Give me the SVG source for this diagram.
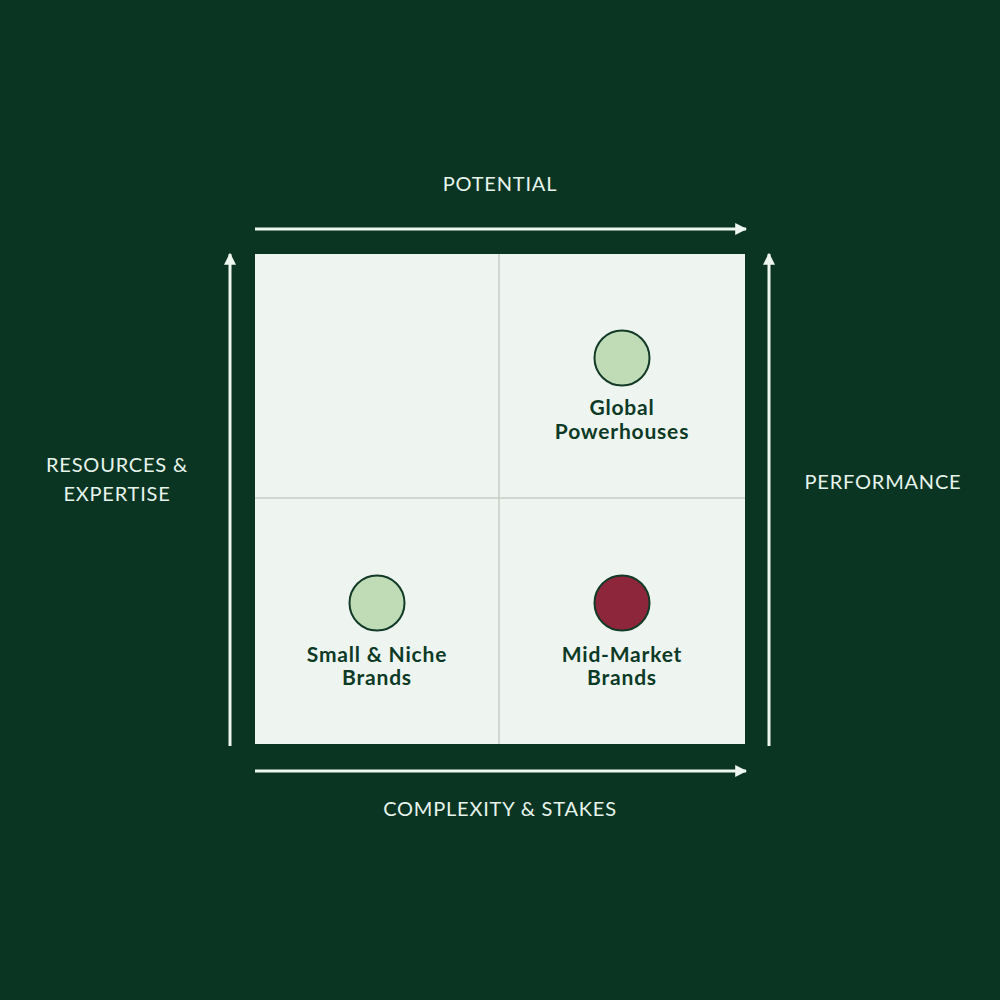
<svg xmlns="http://www.w3.org/2000/svg" width="1000" height="1000" viewBox="0 0 1000 1000">
<defs>
<marker id="ah" viewBox="0 0 10 10" refX="9" refY="5" markerWidth="4" markerHeight="4" markerUnits="strokeWidth" orient="auto">
<path d="M0,0 L10,5 L0,10 Z" fill="#eef6f1"/>
</marker>
<style>
.axis{stroke:#eef6f1;stroke-width:3;fill:none}
.lbl{font-family:Lato,"Liberation Sans",sans-serif;font-size:20px;letter-spacing:0.8px;fill:#e6f4ec;text-anchor:middle}
.nl{font-family:Lato,"Liberation Sans",sans-serif;font-size:21px;letter-spacing:0.8px;font-weight:bold;fill:#0d3a26;text-anchor:middle}
.dot{stroke:#123a27;stroke-width:2}
.div{stroke:#c4ccc7;stroke-width:1.5}
</style>
</defs>
<rect width="1000" height="1000" fill="#0b3523"/>
<g id="matrix">
<rect x="255" y="254" width="490" height="490" fill="#eef5f0"/>
<line class="div" x1="499" y1="254" x2="499" y2="744"/>
<line class="div" x1="255" y1="498" x2="745" y2="498"/>
</g>
<g id="connectors">
<line class="axis" x1="255" y1="229" x2="746" y2="229" marker-end="url(#ah)"/>
<line class="axis" x1="255" y1="771" x2="746" y2="771" marker-end="url(#ah)"/>
<line class="axis" x1="230" y1="746" x2="230" y2="254" marker-end="url(#ah)"/>
<line class="axis" x1="769" y1="746" x2="769" y2="254" marker-end="url(#ah)"/>
</g>
<g id="axis-labels">
<text class="lbl" x="500" y="191">POTENTIAL</text>
<text class="lbl" x="500" y="816">COMPLEXITY &amp; STAKES</text>
<text class="lbl" x="117" y="472">RESOURCES &amp;</text>
<text class="lbl" x="117" y="501">EXPERTISE</text>
<text class="lbl" x="883" y="489">PERFORMANCE</text>
</g>
<g id="global-powerhouses">
<circle class="dot" cx="622" cy="358" r="27.5" fill="#bfdcb7"/>
<text class="nl" x="622" y="415">Global</text>
<text class="nl" x="622" y="439">Powerhouses</text>
</g>
<g id="small-niche">
<circle class="dot" cx="377" cy="603" r="27.5" fill="#bfdcb7"/>
<text class="nl" x="377" y="662">Small &amp; Niche</text>
<text class="nl" x="377" y="685">Brands</text>
</g>
<g id="mid-market">
<circle class="dot" cx="622" cy="603" r="27.5" fill="#8e263b"/>
<text class="nl" x="622" y="662">Mid-Market</text>
<text class="nl" x="622" y="685">Brands</text>
</g>
</svg>
